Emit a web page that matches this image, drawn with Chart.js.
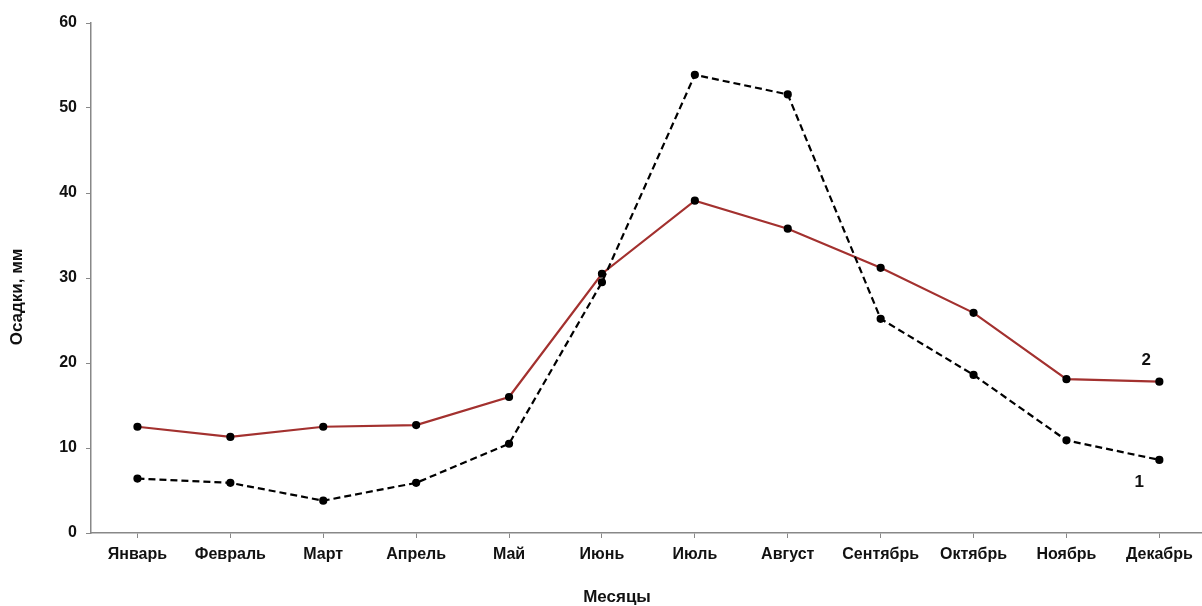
<!DOCTYPE html>
<html><head><meta charset="utf-8">
<script src="https://cdn.jsdelivr.net/npm/chart.js@4/dist/chart.umd.min.js"></script>
<style>html,body{margin:0;padding:0;background:#fff;overflow:hidden}#wrap{width:1202px;height:606px;overflow:hidden}</style>
</head><body><div id="wrap"><canvas id="c" width="1212" height="606"></canvas></div>
<script>
const months = ["Январь","Февраль","Март","Апрель","Май","Июнь","Июль","Август","Сентябрь","Октябрь","Ноябрь","Декабрь"];
const series1 = [6.4, 5.9, 3.8, 5.9, 10.5, 29.5, 53.9, 51.6, 25.2, 18.6, 10.9, 8.6];
const series2 = [12.5, 11.3, 12.5, 12.7, 16.0, 30.5, 39.1, 35.8, 31.2, 25.9, 18.1, 17.8];
const yTicks = [0, 10, 20, 30, 40, 50, 60];
const seriesLabels = ["1", "2"];
const labelValues = [6.0, 20.3];
const xTitle = "Месяцы";
const yTitle = "Осадки, мм";

const font = {family: "'Liberation Sans', Arial, sans-serif", size: 16, weight: 'bold'};

const extras = {
  id: 'extras',
  afterDatasetsDraw(chart) {
    const ctx = chart.ctx, xs = chart.scales.x, ys = chart.scales.y;
    ctx.save();
    ctx.fillStyle = '#111';
    ctx.font = "bold 17px 'Liberation Sans', Arial, sans-serif";
    ctx.textAlign = 'center'; ctx.textBaseline = 'middle';
    const xl = xs.getPixelForValue(months.length - 1);
    ctx.fillText(seriesLabels[0], xl - 20, ys.getPixelForValue(labelValues[0]));
    ctx.fillText(seriesLabels[1], xl - 13, ys.getPixelForValue(labelValues[1]));
    ctx.font = "bold 17px 'Liberation Sans', Arial, sans-serif";
    ctx.fillText(xTitle, 617, 597);
    ctx.translate(17, 297);
    ctx.rotate(-Math.PI/2);
    ctx.fillText(yTitle, 0, 0);
    ctx.restore();
  }
};

new Chart(document.getElementById('c'), {
  type: 'line',
  data: {
    labels: months,
    datasets: [
      {label: seriesLabels[0], data: series1, borderColor: '#000', borderWidth: 2.2, borderDash: [7, 4],
       pointRadius: 3, pointBackgroundColor: '#000', pointBorderColor: '#000', tension: 0, fill: false},
      {label: seriesLabels[1], data: series2, borderColor: '#A3312F', borderWidth: 2.2,
       pointRadius: 3, pointBackgroundColor: '#000', pointBorderColor: '#000', tension: 0, fill: false}
    ]
  },
  options: {
    responsive: false, animation: false,
    layout: {padding: {top: 23, right: 0, left: 0, bottom: 0}},
    plugins: {legend: {display: false}, tooltip: {enabled: false}},
    scales: {
      x: {
        offset: true,
        grid: {display: true, drawOnChartArea: false, drawTicks: true, tickLength: 5, color: '#888', offset: false},
        border: {display: true, color: '#888', width: 1.5},
        ticks: {font: font, color: '#111', padding: 7, maxRotation: 0, autoSkip: false},
        afterFit(s) { s.height = 73; }
      },
      y: {
        min: 0, max: 60,
        grid: {display: true, drawOnChartArea: false, drawTicks: true, tickLength: 5, color: '#888'},
        border: {display: true, color: '#888', width: 1.5},
        afterBuildTicks(s) { s.ticks = yTicks.map(v => ({value: v})); },
        ticks: {font: font, color: '#111', padding: 9},
        afterFit(s) { s.width = 91; }
      }
    }
  },
  plugins: [extras]
});
</script></body></html>
